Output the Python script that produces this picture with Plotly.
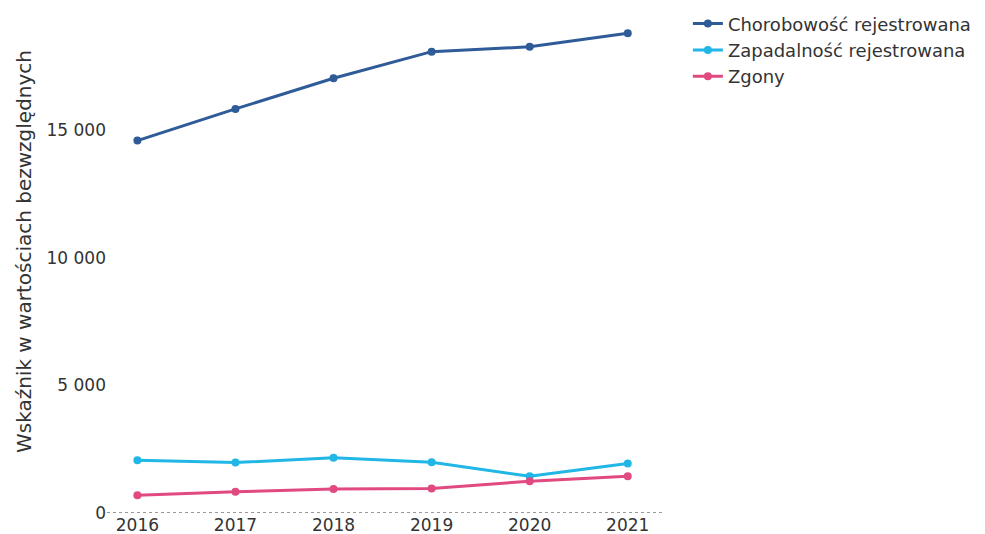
import plotly.graph_objects as go

years = [2016, 2017, 2018, 2019, 2020, 2021]
chorobowosc = [14580, 15820, 17020, 18060, 18250, 18780]
zapadalnosc = [2065, 1975, 2160, 1985, 1440, 1940]
zgony = [690, 830, 935, 960, 1245, 1440]

names = ["Chorobowość rejestrowana", "Zapadalność rejestrowana", "Zgony"]
colors = ["#2f5b98", "#20b6e6", "#e04a80"]
series = [chorobowosc, zapadalnosc, zgony]

fig = go.Figure()
for n, c, s in zip(names, colors, series):
    fig.add_trace(go.Scatter(x=years, y=s, name=n, mode="lines+markers",
                             line=dict(color=c, width=3),
                             marker=dict(color=c, size=8)))

L, R, T, B = 107, 320, 20, 21
fig.update_layout(
    width=985, height=534,
    margin=dict(l=L, r=R, t=T, b=B, autoexpand=False),
    paper_bgcolor="white", plot_bgcolor="white",
    font=dict(family="DejaVu Sans", size=17, color="#333333"),
    showlegend=True,
    legend=dict(x=1.041, y=0.99, xanchor="left", yanchor="top", yref="container",
                font=dict(size=18), tracegroupgap=0),
    xaxis=dict(range=[2015.69, 2021.38], tickvals=years, ticktext=[str(y) for y in years],
               showgrid=False, zeroline=False, showline=False, ticks="",
               automargin=False, tickfont=dict(size=17)),
    yaxis=dict(range=[0, 19300], tickvals=[0, 5000, 10000, 15000],
               ticktext=["0", "5 000", "10 000", "15 000"],
               showgrid=False, zeroline=False, showline=False, ticks="",
               automargin=False, tickfont=dict(size=17)),
)
fig.add_annotation(text="Wskaźnik w wartościach bezwzględnych", xref="paper", yref="paper",
                   x=-0.150, y=0.53, xanchor="center", yanchor="middle", textangle=-90,
                   showarrow=False, font=dict(size=20, color="#333333"))
fig.add_shape(type="line", xref="paper", yref="y", x0=0, x1=1, y0=0, y1=0,
              line=dict(color="#999999", width=2, dash="dot"), layer="below")

fig.write_html("out.html")
